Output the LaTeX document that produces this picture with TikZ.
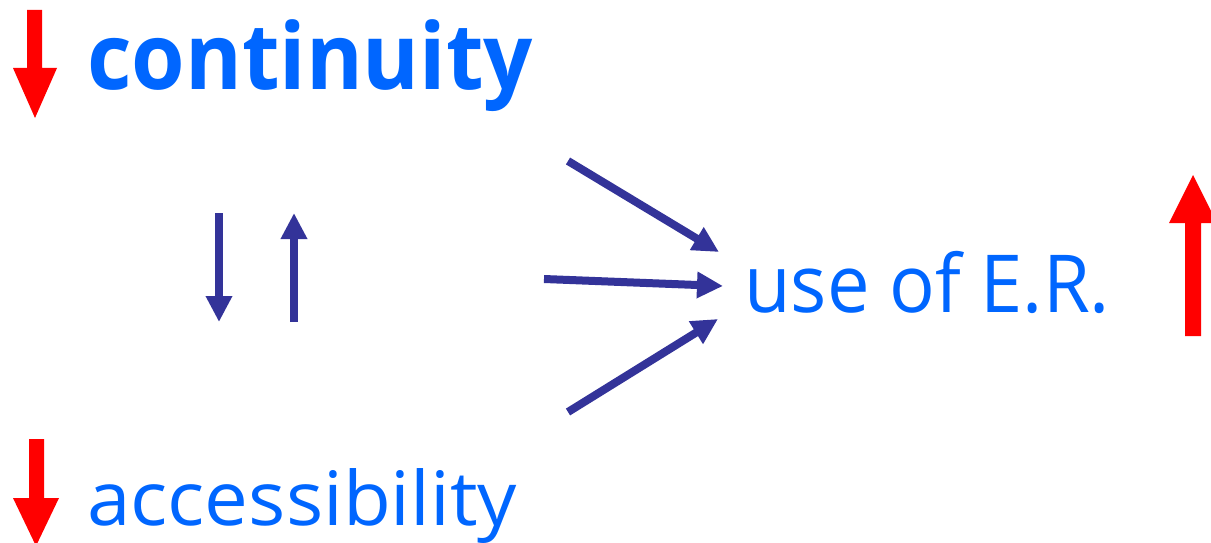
\documentclass[tikz,border=0pt]{standalone}
\usepackage{fontspec}
\setmainfont{Open Sans}
\usetikzlibrary{arrows.meta}
\definecolor{txtblue}{RGB}{0,102,255}
\definecolor{arrblue}{RGB}{51,51,153}
\definecolor{redarr}{RGB}{255,0,0}
\begin{document}
\begin{tikzpicture}[x=1pt,y=-1pt,
  txt/.style={inner sep=0pt, anchor=base west, text=txtblue},
  bluearrow/.style={draw=arrblue, line width=8pt, -{Triangle[length=26pt,width=25pt]}},
  redfill/.style={fill=redarr, draw=none}]
\useasboundingbox (0,0) rectangle (1211,543);
% texts
\node[txt, font=\bfseries\fontsize{92}{100}\selectfont] (cont) at (87,90) {\resizebox{446pt}{\height}{continuity}};
\node[txt, font=\fontsize{75}{90}\selectfont] (acc) at (87,525) {\resizebox{430pt}{\height}{accessibility}};
\node[txt, font=\fontsize{80}{96}\selectfont] (use) at (744,312) {\resizebox{366pt}{\height}{use of E.R.}};
% red block arrows
\fill[redfill] (27,10) -- (42,10) -- (42,68) -- (57,68) -- (35,118) -- (13,68) -- (27,68) -- cycle;
\fill[redfill] (29,439) -- (44,439) -- (44,498) -- (59,498) -- (36,546) -- (13,498) -- (29,498) -- cycle;
\fill[redfill] (1185,336) -- (1201,336) -- (1201,223) -- (1217,223) -- (1193,175) -- (1169,223) -- (1185,223) -- cycle;
% blue arrows
\coordinate (d1) at (219,213); \coordinate (d2) at (219,322);
\coordinate (u1) at (294,322); \coordinate (u2) at (294,213);
\coordinate (t1) at (568,161); \coordinate (t2) at (719,252);
\coordinate (m1) at (544,279); \coordinate (m2) at (723,286);
\coordinate (b1) at (568,412); \coordinate (b2) at (718,319);
\draw[bluearrow] (d1) -- (d2);
\draw[bluearrow] (u1) -- (u2);
\draw[bluearrow] (t1) -- (t2);
\draw[bluearrow] (m1) -- (m2);
\draw[bluearrow] (b1) -- (b2);
\end{tikzpicture}
\end{document}
